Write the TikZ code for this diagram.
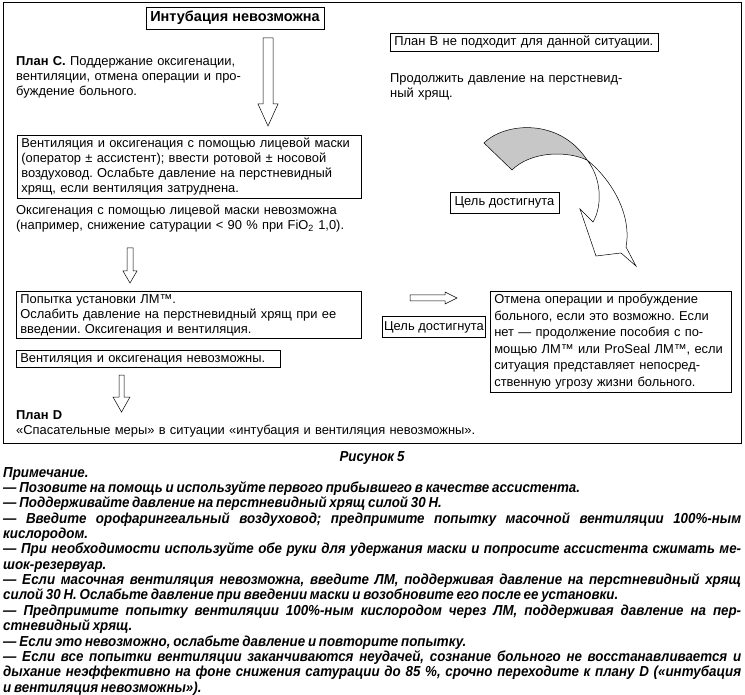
\documentclass[tikz,border=0pt]{standalone}
\usepackage{fontspec}
\setmainfont{Liberation Sans}
\newfontfamily\notefont[FakeStretch=0.92,WordSpace=0.75]{Liberation Sans}
\usetikzlibrary{positioning}
\frenchspacing

\newcommand{\diagfont}{\fontsize{12.9}{15}\selectfont}
\newcommand{\notestyle}{\notefont\bfseries\itshape\fontsize{14.5}{15}\selectfont}

\tikzset{
  box/.style={draw, line width=0.7pt, inner xsep=4pt, inner ysep=3pt, align=left, anchor=north west, font=\diagfont},
  txt/.style={inner sep=0pt, align=left, anchor=north west, font=\diagfont},
  goalbox/.style={draw, line width=0.7pt, inner sep=2pt, minimum height=21pt, font=\diagfont},
  blockarrow/.style={draw, line width=0.5pt, fill=white},
  noteline/.style={inner sep=0pt, anchor=base west, font=\notestyle},
}

\begin{document}
\begin{tikzpicture}[x=1pt,y=-1pt]
\useasboundingbox (0,0) rectangle (745,695);

% outer frame
\draw[line width=1pt] (3,3) rectangle (741,443);

% left column
\node[draw, line width=0.7pt, minimum width=178pt, minimum height=22pt, font=\fontsize{14.5}{15}\selectfont\bfseries] (imposs) at (235,18) {Интубация невозможна};
\node[txt, text width=260pt] (planC) at (16,56.5) {\textbf{План С.} Поддержание оксигенации,\\вентиляции, отмена операции и про-\\буждение больного.};
\node[box, text width=336pt] (maskvent) at (17,135) {Вентиляция и оксигенация с помощью лицевой маски\\(оператор ± ассистент); ввести ротовой ± носовой\\воздуховод. Ослабьте давление на перстневидный\\хрящ, если вентиляция затруднена.};
\node[txt, text width=345pt] (maskfail) at (16,204.5) {Оксигенация с помощью лицевой маски невозможна\\(например, снижение сатурации < 90~\% при FiO\textsubscript{2} 1,0).};
\node[box, text width=337pt] (lmtry) at (16,291) {Попытка установки ЛМ™.\\Ослабить давление на перстневидный хрящ при ее\\введении. Оксигенация и вентиляция.};
\node[box, text width=256pt] (ventfail) at (16,350) {Вентиляция и оксигенация невозможны.};
\node[txt, text width=480pt] (planD) at (16,410) {\textbf{План D}\\«Спасательные меры» в ситуации «интубация и вентиляция невозможны».};

% right column
\node[box, text width=260pt] (planB) at (390,33) {План В не подходит для данной ситуации.};
\node[txt, text width=260pt] (cricoid) at (390,73) {Продолжить давление на перстневид-\\ный хрящ.};
\node[goalbox, minimum width=109pt] (goal1) at (504.5,202.5) {Цель достигнута};
\node[goalbox, minimum width=98pt] (goal2) at (434,327) {Цель достигнута};
\node[box, text width=233pt, font=\fontsize{12.9}{16.5}\selectfont] (wake) at (490,291) {Отмена операции и пробуждение\\больного, если это возможно. Если\\нет — продолжение пособия с по-\\мощью ЛМ™ или ProSeal ЛМ™, если\\ситуация представляет непосред-\\ственную угрозу жизни больного.};

% block arrows
\draw[blockarrow] (263,38) -- (273,38) -- (273,104) -- (278,104) -- (268,126) -- (258,104) -- (263,104) -- cycle;
\draw[blockarrow] (127,248) -- (133,248) -- (133,271) -- (137,271) -- (130,283) -- (123,271) -- (127,271) -- cycle;
\draw[blockarrow] (119,375) -- (124,375) -- (124,397) -- (130,397) -- (121.5,412) -- (113,397) -- (119,397) -- cycle;
\draw[blockarrow] (410,295) -- (445,295) -- (445,292) -- (457,298) -- (445,304) -- (445,301) -- (410,301) -- cycle;

% curved arrow
\filldraw[fill=black!22, line width=0.5pt] (484,143) -- (512,170) .. controls (530,152) and (565,150) .. (587,160) .. controls (560,118) and (505,122) .. (484,143) -- cycle;
\filldraw[fill=white, line width=0.5pt] (587,160) .. controls (601,177) and (603,205) .. (593,222) -- (580,209) -- (596,256) -- (621,253) -- (636,266) -- (626,247) .. controls (632,215) and (612,180) .. (587,160) -- cycle;

% note
\node[font=\notestyle, inner sep=0pt, anchor=base] (fig) at (372,461) {Рисунок 5};
\node[noteline] (n1) at (3,477) {Примечание.};
\node[noteline] (n2) at (3,492.4) {— Позовите на помощь и используйте первого прибывшего в качестве ассистента.};
\node[noteline] (n3) at (3,507.7) {— Поддерживайте давление на перстневидный хрящ силой 30 Н.};
\node[noteline] (n4) at (3,523.1) {\makebox[738pt][s]{— Введите орофарингеальный воздуховод; предпримите попытку масочной вентиляции 100\%-ным}};
\node[noteline] (n5) at (3,538.4) {кислородом.};
\node[noteline] (n6) at (3,553.8) {\makebox[738pt][s]{— При необходимости используйте обе руки для удержания маски и попросите ассистента сжимать ме-}};
\node[noteline] (n7) at (3,569.2) {шок-резервуар.};
\node[noteline] (n8) at (3,584.5) {\makebox[738pt][s]{— Если масочная вентиляция невозможна, введите ЛМ, поддерживая давление на перстневидный хрящ}};
\node[noteline] (n9) at (3,599.9) {силой 30 Н. Ослабьте давление при введении маски и возобновите его после ее установки.};
\node[noteline] (n10) at (3,615.2) {\makebox[738pt][s]{— Предпримите попытку вентиляции 100\%-ным кислородом через ЛМ, поддерживая давление на пер-}};
\node[noteline] (n11) at (3,630.6) {стневидный хрящ.};
\node[noteline] (n12) at (3,646) {— Если это невозможно, ослабьте давление и повторите попытку.};
\node[noteline] (n13) at (3,661.3) {\makebox[738pt][s]{— Если все попытки вентиляции заканчиваются неудачей, сознание больного не восстанавливается и}};
\node[noteline] (n14) at (3,676.7) {\makebox[738pt][s]{дыхание неэффективно на фоне снижения сатурации до 85~\%, срочно переходите к плану D («интубация}};
\node[noteline] (n15) at (3,692) {и вентиляция невозможны»).};
\end{tikzpicture}
\end{document}
